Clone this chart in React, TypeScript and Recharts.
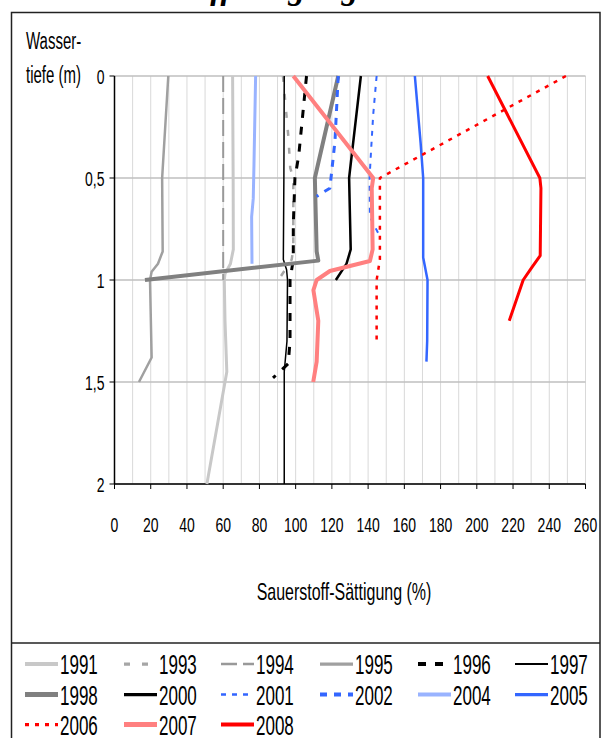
import React from 'react'
import { ScatterChart, Scatter, XAxis, YAxis, CartesianGrid } from 'recharts'

const FONT = '"Liberation Sans", Arial, sans-serif'

// axis values
const satTicks = [0, 20, 40, 60, 80, 100, 120, 140, 160, 180, 200, 220, 240, 260]
const satGrid = [0, 10, 20, 30, 40, 50, 60, 70, 80, 90, 100, 110, 120, 130, 140, 150, 160, 170, 180, 190, 200, 210, 220, 230, 240, 250, 260]
const depthTicks = [0, 0.5, 1, 1.5, 2]

// depth (m) / oxygen saturation (%) per year
const d1991 = [0, 0.5, 0.85, 0.92, 0.97, 1.0, 1.2, 1.45, 1.5, 2.0]
const s1991 = [65.2, 65.5, 65.6, 64, 61, 60.6, 61, 62, 61, 51]
const d1993 = [0, 0.3, 0.45, 0.5, 0.85, 0.9, 1.0]
const s1993 = [93, 96, 97, 98.7, 98.7, 97.8, 90.5]
const d1994 = [0, 1.0]
const s1994 = [60, 60]
const d1995 = [0, 0.5, 0.86, 0.92, 0.96, 1.0, 1.38, 1.5]
const s1995 = [29.7, 26.3, 26.6, 24, 20.5, 19.6, 20.5, 13.5]
const d1996 = [0, 0.39, 0.5, 0.73, 0.9, 1.0, 1.3, 1.41, 1.48]
const s1996 = [106, 101.7, 99.6, 98.7, 98.7, 96.9, 96.9, 95.9, 87.5]
const d1997 = [0, 0.5, 0.9, 0.95, 1.0, 1.3, 1.45, 2.0]
const s1997 = [93.7, 93.5, 93.2, 95, 95.5, 95.2, 93.7, 93.7]
const d1998 = [0, 0.5, 0.86, 0.905, 1.0]
const s1998 = [123.5, 110.6, 111.6, 112.5, 16.8]
const d2000 = [0, 0.5, 0.85, 0.92, 1.0]
const s2000 = [136, 129.5, 130.4, 128.1, 122.2]
const d2001 = [0, 0.19, 0.37, 0.5, 0.69, 0.78]
const s2001 = [144.7, 142.8, 141.6, 140.8, 141, 146.1]
const d2002 = [0, 0.32, 0.55, 0.59]
const s2002 = [123.5, 121.7, 118.9, 111.6]
const d2004 = [0, 0.43, 0.6, 0.69, 0.92]
const s2004 = [77.9, 77, 76.6, 75.7, 75.9]
const d2005 = [0, 0.33, 0.5, 0.89, 1.0, 1.3, 1.4]
const s2005 = [165.8, 169, 170.4, 170.4, 172.8, 172.6, 172.2]
const d2006 = [0, 0.5, 0.9, 1.0, 1.3]
const s2006 = [249.2, 146.5, 146.5, 144.7, 144.7]
const d2007 = [0, 0.5, 0.55, 0.85, 0.907, 0.956, 1.0, 1.05, 1.15, 1.2, 1.4, 1.5]
const s2007 = [98.7, 142.8, 142, 142.5, 141, 118.9, 111.6, 109.8, 111.6, 112.5, 111.6, 109.7]
const d2008 = [0, 0.5, 0.55, 0.88, 0.94, 1.0, 1.2]
const s2008 = [206, 234.8, 235.4, 235, 230.2, 225.6, 217.9]

const series = [
  { year: '1991', depth: d1991, sat: s1991, color: '#c8c8c8', width: 3 },
  { year: '1993', depth: d1993, sat: s1993, color: '#a6a6a6', width: 2.5, dash: '6 12' },
  { year: '1994', depth: d1994, sat: s1994, color: '#999999', width: 2, dash: '16 6' },
  { year: '1995', depth: d1995, sat: s1995, color: '#a0a0a0', width: 2.5 },
  { year: '1996', depth: d1996, sat: s1996, color: '#000000', width: 3, dash: '8 9' },
  { year: '1997', depth: d1997, sat: s1997, color: '#000000', width: 1.5 },
  { year: '1998', depth: d1998, sat: s1998, color: '#808080', width: 4 },
  { year: '2000', depth: d2000, sat: s2000, color: '#000000', width: 2.5 },
  { year: '2001', depth: d2001, sat: s2001, color: '#3366ff', width: 2, dash: '5 6' },
  { year: '2002', depth: d2002, sat: s2002, color: '#3366ff', width: 3, dash: '7 7' },
  { year: '2004', depth: d2004, sat: s2004, color: '#99b3ff', width: 3 },
  { year: '2005', depth: d2005, sat: s2005, color: '#3366ff', width: 2.5 },
  { year: '2006', depth: d2006, sat: s2006, color: '#ff0000', width: 2.5, dash: '4 6' },
  { year: '2007', depth: d2007, sat: s2007, color: '#ff8080', width: 4 },
  { year: '2008', depth: d2008, sat: s2008, color: '#ff0000', width: 3 },
]

const legendTextX = [60, 159, 256, 355, 453, 550]
const legendRowY = [664, 694.5, 724.5]

const NoDot = () => <g />

const XTick = (props: any) => {
  const { x, y, payload } = props
  return (
    <text
      transform={`translate(${x},${y + 40.5}) scale(1,1.5)`}
      textAnchor="middle"
      fontSize={14}
      fontFamily={FONT}
      fill="#000"
    >
      {payload.value}
    </text>
  )
}

const YTick = (props: any) => {
  const { x, y, payload } = props
  return (
    <text
      transform={`translate(${x},${y + 7.5}) scale(1,1.5)`}
      textAnchor="end"
      fontSize={14}
      fontFamily={FONT}
      fill="#000"
    >
      {String(payload.value).replace('.', ',')}
    </text>
  )
}

export default function App() {
  return (
    <div
      style={{
        position: 'absolute',
        left: 0,
        top: 0,
        width: 606,
        height: 738,
        overflow: 'hidden',
        background: '#fff',
      }}
    >
      {/* frame, titles, legend */}
      <svg width={606} height={738} style={{ position: 'absolute', left: 0, top: 0 }}>
        <text
          x={91}
          y={-1}
          fontSize={33}
          fontWeight="bold"
          fontStyle="italic"
          fontFamily='"Liberation Serif", serif'
          fill="#000"
        >
          Sauerstoffsättigung
        </text>
        <rect x={11.5} y={12.5} width={588.5} height={740} fill="none" stroke="#222" strokeWidth={1.5} />
        <line x1={11} x2={600} y1={643} y2={643} stroke="#222" strokeWidth={1.5} />
        <text transform="translate(26,48.5) scale(1,1.55)" fontSize={15} fontFamily={FONT} fill="#000">
          Wasser-
        </text>
        <text transform="translate(26,83) scale(1,1.55)" fontSize={15} fontFamily={FONT} fill="#000">
          tiefe (m)
        </text>
        <text
          transform="translate(344,600) scale(1,1.5)"
          textAnchor="middle"
          fontSize={16}
          fontFamily={FONT}
          fill="#000"
        >
          Sauerstoff-Sättigung (%)
        </text>
        {series.map((s, i) => {
          const tx = legendTextX[i % 6]
          const cy = legendRowY[Math.floor(i / 6)]
          return (
            <g key={s.year}>
              <line
                x1={tx - 35}
                x2={tx - 2}
                y1={cy}
                y2={cy}
                stroke={s.color}
                strokeWidth={s.width * 1.3}
                strokeDasharray={s.dash}
              />
              <text
                transform={`translate(${tx},${cy + 10}) scale(1,1.65)`}
                fontSize={17}
                fontFamily={FONT}
                fill="#000"
              >
                {s.year}
              </text>
            </g>
          )
        })}
      </svg>

      <div style={{ position: 'absolute', left: 0, top: 0 }}>
        <ScatterChart
          width={606}
          height={560}
          margin={{ top: 76, right: 20.5, left: 54.5, bottom: 46 }}
        >
          <CartesianGrid
            horizontal={false}
            verticalValues={satGrid}
            stroke="#d9d9d9"
            strokeWidth={1}
          />
          <CartesianGrid
            vertical={false}
            horizontalValues={depthTicks}
            stroke="#bfbfbf"
            strokeWidth={1.5}
          />
          <XAxis
            type="number"
            dataKey="x"
            domain={[0, 260]}
            ticks={satTicks}
            allowDataOverflow
            interval={0}
            height={30}
            tickSize={5}
            tickMargin={2}
            axisLine={{ stroke: '#000', strokeWidth: 1.5 }}
            tickLine={{ stroke: '#000' }}
            tick={<XTick />}
          />
          <YAxis
            type="number"
            dataKey="y"
            domain={[0, 2]}
            reversed
            ticks={depthTicks}
            interval={0}
            width={60}
            tickSize={5}
            tickMargin={5}
            axisLine={{ stroke: '#000', strokeWidth: 1.5 }}
            tickLine={{ stroke: '#000' }}
            tick={<YTick />}
          />
          {series.map((s) => (
            <Scatter
              key={s.year}
              name={s.year}
              data={s.depth.map((d, i) => ({ x: s.sat[i], y: d }))}
              fill={s.color}
              shape={NoDot}
              line={{
                stroke: s.color,
                strokeWidth: s.width,
                strokeDasharray: s.dash,
                strokeLinejoin: 'round',
              }}
              lineJointType="linear"
              legendType="none"
              isAnimationActive={false}
            />
          ))}
        </ScatterChart>
      </div>
    </div>
  )
}
